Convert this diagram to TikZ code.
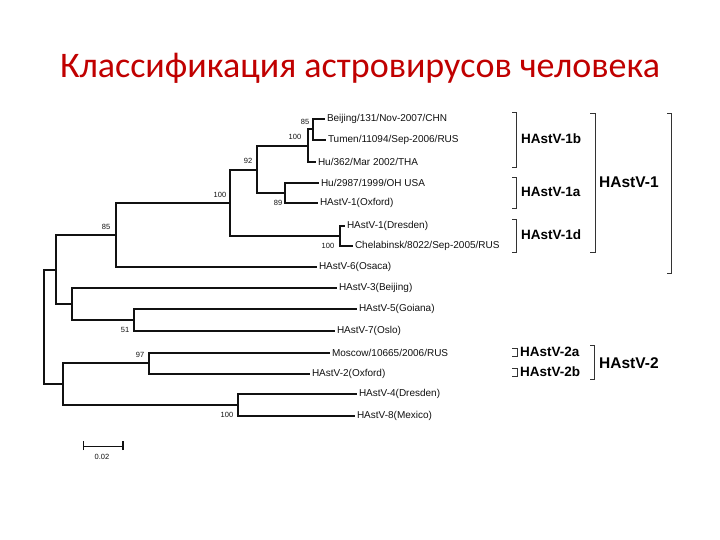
\documentclass[tikz,border=0pt]{standalone}
\usepackage{fontspec}
\setmainfont{Liberation Sans}
\newfontfamily\titlefont{Carlito}
\definecolor{titlered}{HTML}{C00000}
\definecolor{treeink}{HTML}{111111}
\begin{document}
\begin{tikzpicture}[x=1pt,y=-1pt,
  br/.style={line width=1.7pt, draw=treeink},
  brthick/.style={line width=2.2pt, draw=treeink},
  brthin/.style={line width=1.2pt, draw=treeink},
  leaf/.style={anchor=west, inner sep=1.8pt, font=\fontsize{10}{10}\selectfont, text=treeink},
  bs/.style={inner sep=0pt, font=\fontsize{7.5}{8}\selectfont, text=treeink},
  clade/.style={anchor=west, inner sep=0pt, font=\bfseries\fontsize{13.5}{14}\selectfont},
  bigclade/.style={anchor=west, inner sep=0pt, font=\bfseries\fontsize{15.5}{16}\selectfont},
  brk/.style={line width=1pt, draw=black!80}]
\useasboundingbox (0,0) rectangle (720,540);
% title
\node[font=\titlefont\fontsize{36}{36}\selectfont, text=titlered] (title) at (360,68) {Классификация астровирусов человека};
% internal nodes
\coordinate (R) at (44,327);
\coordinate (A) at (56,270);
\coordinate (B) at (116,235);
\coordinate (C) at (230,203);
\coordinate (D) at (257,170);
\coordinate (G) at (308,146);
\coordinate (H) at (313,129);
\coordinate (I) at (285,193);
\coordinate (J) at (340,236);
\coordinate (E) at (72,304);
\coordinate (K) at (134,320);
\coordinate (F) at (63,384);
\coordinate (L) at (149,363);
\coordinate (M) at (238,405);
% leaves
\node[leaf] (l1) at (325,119) {Beijing/131/Nov-2007/CHN};
\node[leaf] (l2) at (326,140) {Tumen/11094/Sep-2006/RUS};
\node[leaf] (l3) at (316,162) {Hu/362/Mar 2002/THA};
\node[leaf] (l4) at (319,183) {Hu/2987/1999/OH USA};
\node[leaf] (l5) at (318,203) {HAstV-1(Oxford)};
\node[leaf] (l6) at (345,226) {HAstV-1(Dresden)};
\node[leaf] (l7) at (353,246) {Chelabinsk/8022/Sep-2005/RUS};
\node[leaf] (l8) at (317,267) {HAstV-6(Osaca)};
\node[leaf] (l9) at (337,288) {HAstV-3(Beijing)};
\node[leaf] (l10) at (357,309) {HAstV-5(Goiana)};
\node[leaf] (l11) at (335,331) {HAstV-7(Oslo)};
\node[leaf] (l12) at (330,353) {Moscow/10665/2006/RUS};
\node[leaf] (l13) at (310,374) {HAstV-2(Oxford)};
\node[leaf] (l14) at (357,394) {HAstV-4(Dresden)};
\node[leaf] (l15) at (355,416) {HAstV-8(Mexico)};
% branches
\draw[br] (R) |- (A);
\draw[br] (R) |- (F);
\draw[br] (A) |- (B);
\draw[br] (A) |- (E);
\draw[br] (B) |- (C);
\draw[brthick] (B) |- (l8.west);
\draw[br] (C) |- (D);
\draw[br] (C) |- (J);
\draw[br] (D) |- (G);
\draw[br] (D) |- (I);
\draw[br] (G) |- (H);
\draw[br] (G) |- (l3.west);
\draw[br] (H) |- (l1.west);
\draw[br] (H) |- (l2.west);
\draw[brthin] (I) |- (l4.west);
\draw[br] (I) |- (l5.west);
\draw[brthin] (J) |- (l6.west);
\draw[br] (J) |- (l7.west);
\draw[brthick] (E) |- (l9.west);
\draw[br] (E) |- (K);
\draw[brthick] (K) |- (l10.west);
\draw[br] (K) |- (l11.west);
\draw[br] (F) |- (L);
\draw[br] (F) |- (M);
\draw[brthin] (L) |- (l12.west);
\draw[brthin] (L) |- (l13.west);
\draw[brthick] (M) |- (l14.west);
\draw[brthick] (M) |- (l15.west);
% bootstrap values
\node[bs] (b1) at (305,122) {85};
\node[bs] (b2) at (295,137) {100};
\node[bs] (b3) at (248,161) {92};
\node[bs] (b4) at (220,195) {100};
\node[bs] (b5) at (278,203) {89};
\node[bs] (b6) at (328,246) {100};
\node[bs] (b7) at (106,227) {85};
\node[bs] (b8) at (125,330) {51};
\node[bs] (b9) at (140,355) {97};
\node[bs] (b10) at (227,415) {100};
% scale bar
\coordinate (s1) at (83,446);
\coordinate (s2) at (123,446);
\draw[line width=1pt, treeink] (s1) -- (s2);
\draw[line width=0.8pt, treeink] ([yshift=-4pt]s1) -- ([yshift=5pt]s1);
\draw[line width=1.6pt, treeink] ([yshift=-4pt]s2) -- ([yshift=5pt]s2);
\node[bs] (scale) at (102,457) {0.02};
% clade brackets
\draw[brk] (512,113) -- (516,113) -- (516,168) -- (512,168);
\draw[brk] (512,178) -- (516,178) -- (516,209) -- (512,209);
\draw[brk] (512,220) -- (516,220) -- (516,252) -- (512,252);
\draw[brk] (590,114) -- (595,114) -- (595,252) -- (590,252);
\draw[brk] (667,114) -- (671,114) -- (671,273) -- (667,273);
\draw[brk] (512,348) -- (517,348) -- (517,356) -- (512,356);
\draw[brk] (512,368) -- (517,368) -- (517,376) -- (512,376);
\draw[brk] (590,345) -- (594,345) -- (594,379) -- (590,379);
\node[clade] (c1b) at (521,139) {HAstV-1b};
\node[clade] (c1a) at (521,192) {HAstV-1a};
\node[clade] (c1d) at (521,235) {HAstV-1d};
\node[bigclade] (c1) at (599,182) {HAstV-1};
\node[clade] (c2a) at (520,352) {HAstV-2a};
\node[clade] (c2b) at (520,372) {HAstV-2b};
\node[bigclade] (c2) at (599,363) {HAstV-2};
\end{tikzpicture}
\end{document}
